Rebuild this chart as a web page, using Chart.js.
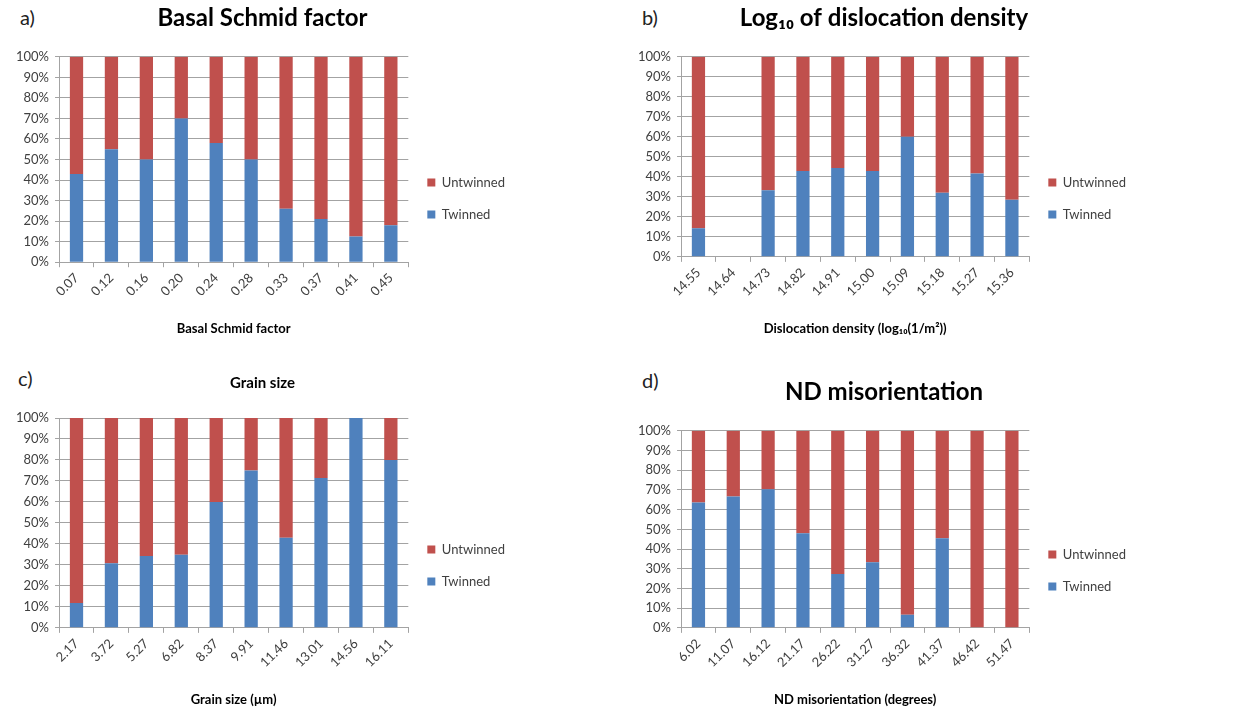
<!DOCTYPE html>
<html>
<head>
<meta charset="utf-8">
<script src="https://cdn.jsdelivr.net/npm/chart.js@4.4.1/dist/chart.umd.min.js"></script>
<style>
  html, body { margin:0; padding:0; background:#fff; }
  body { width:1237px; height:713px; position:relative; overflow:hidden; font-family: Lato, 'Open Sans', sans-serif; }
  canvas { position:absolute; }
  .lab { position:absolute; font-family: Lato, 'Open Sans', sans-serif; font-size:20px; color:#222; line-height:20px; }
</style>
</head>
<body>
<div class="lab" style="left:20px;top:7px;">a)</div>
<div class="lab" style="left:642px;top:7px;">b)</div>
<div class="lab" style="left:18px;top:368px;">c)</div>
<div class="lab" style="left:642px;top:370px;">d)</div>
<canvas id="cA" width="505" height="350" style="left:10px;top:0px;"></canvas>
<canvas id="cB" width="504" height="350" style="left:632px;top:0px;"></canvas>
<canvas id="cC" width="505" height="363" style="left:10px;top:350px;"></canvas>
<canvas id="cD" width="504" height="363" style="left:632px;top:350px;"></canvas>
<script>
// ---- data ----
const seriesNames = ['Twinned', 'Untwinned'];
const yTickLabels = ['0%','10%','20%','30%','40%','50%','60%','70%','80%','90%','100%'];

const schmidCats = ['0.07','0.12','0.16','0.20','0.24','0.28','0.33','0.37','0.41','0.45'];
const schmidTwinned   = [43, 55, 50, 70, 58, 50, 26, 21, 12.5, 18];
const schmidUntwinned = [57, 45, 50, 30, 42, 50, 74, 79, 87.5, 82];

const dislCats = ['14.55','14.64','14.73','14.82','14.91','15.00','15.09','15.18','15.27','15.36'];
const dislTwinned   = [14.3, 0, 33.3, 42.9, 44.4, 42.9, 60, 32, 41.7, 28.6];
const dislUntwinned = [85.7, 0, 66.7, 57.1, 55.6, 57.1, 40, 68, 58.3, 71.4];

const grainCats = ['2.17','3.72','5.27','6.82','8.37','9.91','11.46','13.01','14.56','16.11'];
const grainTwinned   = [11.8, 30.8, 34.3, 34.8, 60, 75, 42.9, 71.4, 100, 80];
const grainUntwinned = [88.2, 69.2, 65.7, 65.2, 40, 25, 57.1, 28.6, 0, 20];

const ndCats = ['6.02','11.07','16.12','21.17','26.22','31.27','36.32','41.37','46.42','51.47'];
const ndTwinned   = [63.6, 66.7, 70.4, 48, 27.3, 33.3, 6.7, 45.5, 0, 0];
const ndUntwinned = [36.4, 33.3, 29.6, 52, 72.7, 66.7, 93.3, 54.5, 100, 100];

const colTwinned = '#4F81BD';
const colUntwinned = '#C0504D';
const gridCol = '#a3a3a3';
const FONT = "Lato, 'Open Sans', sans-serif";

function makeChart(id, cats, tw, un, cfg) {
  new Chart(document.getElementById(id), {
    type: 'bar',
    data: {
      labels: cats,
      datasets: [
        { label: seriesNames[0], data: tw, backgroundColor: colTwinned, barPercentage: 0.38, categoryPercentage: 1 },
        { label: seriesNames[1], data: un, backgroundColor: colUntwinned, barPercentage: 0.38, categoryPercentage: 1 }
      ]
    },
    options: {
      responsive: false,
      animation: false,
      devicePixelRatio: 1,
      layout: { padding: 0 },
      plugins: {
        tooltip: { enabled: false },
        title: {
          display: true,
          text: cfg.title,
          color: '#000',
          font: { family: FONT, size: cfg.titleSize, weight: 'bold' },
          padding: { top: cfg.titleTop, bottom: cfg.titleBottom }
        },
        legend: {
          display: true,
          position: 'right',
          reverse: true,
          title: { display: true, text: ' ', font: { size: 12 }, padding: { top: cfg.legendSpacer - 14.4, bottom: 0 } },
          labels: {
            boxWidth: 8, boxHeight: 8, padding: 19,
            color: '#404040',
            font: { family: FONT, size: 13 }
          }
        }
      },
      scales: {
        x: {
          stacked: true,
          grid: { display: true, drawOnChartArea: false, drawTicks: true, tickLength: 5, offset: true, color: gridCol },
          border: { display: true, color: gridCol },
          ticks: { minRotation: 45, maxRotation: 45, color: '#404040', padding: 3, font: { family: FONT, size: 13 } },
          title: {
            display: true, text: cfg.xTitle, color: '#000',
            font: { family: FONT, size: 13, weight: 'bold' },
            padding: { top: 19, bottom: cfg.xTitleBottom }
          }
        },
        y: {
          stacked: true,
          min: 0, max: 100,
          grid: { color: gridCol, tickLength: 4 },
          border: { display: true, color: gridCol },
          ticks: {
            stepSize: 10, color: '#404040', padding: 6,
            font: { family: FONT, size: 13 },
            callback: (v) => yTickLabels[Math.round(v / 10)]
          }
        }
      }
    }
  });
}

makeChart('cA', schmidCats, schmidTwinned, schmidUntwinned,
  { title: 'Basal Schmid factor', titleSize: 24, titleTop: 4, titleBottom: 24, xTitle: 'Basal Schmid factor', xTitleBottom: 13, legendSpacer: 47 });
makeChart('cB', dislCats, dislTwinned, dislUntwinned,
  { title: 'Log\u2081\u2080 of dislocation density', titleSize: 24, titleTop: 4, titleBottom: 24, xTitle: 'Dislocation density (log\u2081\u2080(1/m\u00B2))', xTitleBottom: 13, legendSpacer: 47 });
makeChart('cC', grainCats, grainTwinned, grainUntwinned,
  { title: 'Grain size', titleSize: 15, titleTop: 24, titleBottom: 26, xTitle: 'Grain size (\u00B5m)', xTitleBottom: 5, legendSpacer: 68 });
makeChart('cD', ndCats, ndTwinned, ndUntwinned,
  { title: 'ND misorientation', titleSize: 24, titleTop: 28, titleBottom: 24, xTitle: 'ND misorientation (degrees)', xTitleBottom: 5, legendSpacer: 78 });
</script>
</body>
</html>
